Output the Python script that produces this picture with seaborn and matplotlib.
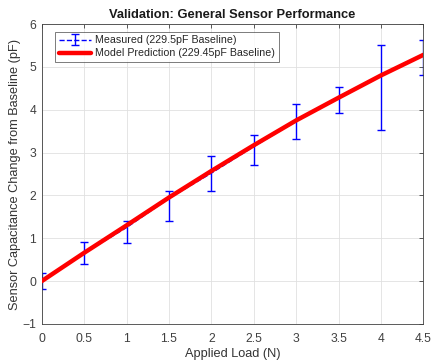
import matplotlib
matplotlib.use("Agg")
import matplotlib.pyplot as plt
import seaborn as sns
import numpy as np
import pandas as pd

load_n = [0, 0.5, 1, 1.5, 2, 2.5, 3, 3.5, 4, 4.5]
measured = [0.0, 0.65, 1.25, 1.93, 2.52, 3.14, 3.73, 4.27, 4.80, 5.27]
err_low = [0.19, 0.25, 0.35, 0.53, 0.41, 0.43, 0.41, 0.35, 1.28, 0.45]
err_high = [0.20, 0.26, 0.16, 0.18, 0.40, 0.28, 0.40, 0.25, 0.72, 0.35]
model = [0.0, 0.66, 1.30, 1.95, 2.57, 3.17, 3.75, 4.28, 4.80, 5.28]

x_ticks = [0, 0.5, 1, 1.5, 2, 2.5, 3, 3.5, 4, 4.5]
x_tick_labels = ["0", "0.5", "1", "1.5", "2", "2.5", "3", "3.5", "4", "4.5"]
y_ticks = [-1, 0, 1, 2, 3, 4, 5, 6]

sns.set_theme(style="white")
plt.rcParams['font.family'] = ['Liberation Sans', 'DejaVu Sans']

fig = plt.figure(figsize=(4.32, 3.62), dpi=100)
ax = fig.add_axes([0.0965, 0.105, 0.8835, 0.8287])

df_model = pd.DataFrame({"load": load_n, "model": model})

eb = ax.errorbar(load_n, measured, yerr=[err_low, err_high], color=(0, 0, 1),
                 linestyle="--", linewidth=1.0, capsize=3, capthick=1.0,
                 elinewidth=1.0, label="Measured (229.5pF Baseline)", zorder=2)
sns.lineplot(data=df_model, x="load", y="model", ax=ax, color=(1, 0, 0),
             linewidth=3.2, label="Model Prediction (229.45pF Baseline)", zorder=3)

ax.set_xlim(0, 4.5)
ax.set_ylim(-1, 6)
ax.set_xticks(x_ticks)
ax.set_xticklabels(x_tick_labels)
ax.set_yticks(y_ticks)
ax.tick_params(direction="in", length=3, top=True, right=True, labelsize=8.7,
               colors="#404040", width=0.6, pad=4)
ax.tick_params(axis="x", pad=6.5)
ax.grid(True, color="#e0e0e0", linewidth=0.6)
for s in ax.spines.values():
    s.set_color("#404040")
    s.set_linewidth(0.6)

ax.set_xlabel("Applied Load (N)", fontsize=9.2, color="#333333", labelpad=2)
ax.set_ylabel("Sensor Capacitance Change from Baseline (pF)", fontsize=9.2,
              color="#333333", labelpad=1)
ax.set_title("Validation: General Sensor Performance", fontsize=9.3,
             fontweight="bold", pad=4, color="#1a1a1a")

handles, labels = ax.get_legend_handles_labels()
order = [labels.index("Measured (229.5pF Baseline)"),
         labels.index("Model Prediction (229.45pF Baseline)")]
leg = ax.legend([handles[i] for i in order], [labels[i] for i in order],
                loc="upper left", fontsize=7.7, frameon=True, fancybox=False,
                edgecolor="#404040", bbox_to_anchor=(0.035, 0.975),
                borderaxespad=0, handlelength=3.0, borderpad=0.35,
                labelspacing=0.3, handletextpad=0.4)
leg.get_frame().set_linewidth(0.6)
for t in leg.get_texts():
    t.set_color("#262626")

fig.savefig("out.png", dpi=100)
